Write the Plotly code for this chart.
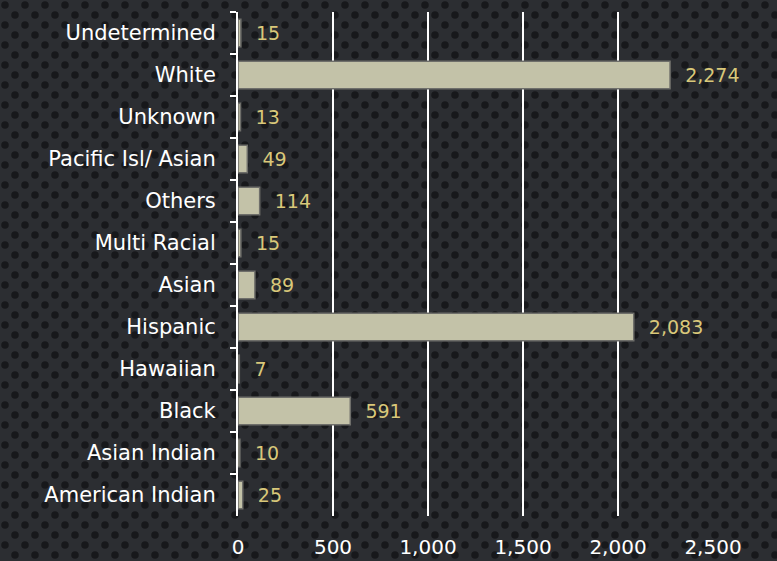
import plotly.graph_objects as go
import base64

categories = ["Undetermined", "White", "Unknown", "Pacific Isl/ Asian", "Others",
              "Multi Racial", "Asian", "Hispanic", "Hawaiian", "Black",
              "Asian Indian", "American Indian"]
values = [15, 2274, 13, 49, 114, 15, 89, 2083, 7, 591, 10, 25]
x_ticks = [0, 500, 1000, 1500, 2000, 2500]

W, H = 777, 561
ML, MR, MT, MB = 238, 64, 12, 45
pw, ph = W - ML - MR, H - MT - MB

svg = f'''<svg xmlns="http://www.w3.org/2000/svg" width="{W}" height="{H}">
<defs><pattern id="p" width="20" height="20" patternUnits="userSpaceOnUse">
<rect width="20" height="20" fill="#2c2e32"/>
<circle cx="5" cy="5" r="3.8" fill="#17181b"/>
<circle cx="15" cy="15" r="3.8" fill="#17181b"/>
</pattern></defs>
<rect width="{W}" height="{H}" fill="url(#p)"/></svg>'''
src = "data:image/svg+xml;base64," + base64.b64encode(svg.encode()).decode()

FONT = "DejaVu Sans"

fig = go.Figure(go.Bar(
    y=categories, x=values, orientation="h",
    marker=dict(color="#c3c2a8", line=dict(color="#6e6e6a", width=1.5)),
    width=0.66,
    text=values, texttemplate="\u00a0\u00a0%{x:,}", textposition="outside",
    textfont=dict(color="#d9c87a", size=19, family=FONT),
    cliponaxis=False,
))

fig.update_layout(
    width=W, height=H,
    margin=dict(l=ML, r=MR, t=MT, b=MB, autoexpand=False),
    paper_bgcolor="#2c2e32", plot_bgcolor="rgba(0,0,0,0)",
    showlegend=False,
    font=dict(family=FONT, color="white", size=20),
    images=[dict(source=src, xref="paper", yref="paper",
                 x=-ML / pw, y=1 + MT / ph, sizex=W / pw, sizey=H / ph,
                 xanchor="left", yanchor="top", sizing="stretch", layer="below")],
    xaxis=dict(range=[0, 2500], tickvals=x_ticks, tickformat=",",
               showgrid=True, gridcolor="white", gridwidth=2,
               zeroline=False, showline=False, ticks="", automargin=False,
               tickfont=dict(size=20, color="white"), ticklabelstandoff=17),
    yaxis=dict(autorange="reversed", type="category", automargin=False,
               showline=True, linecolor="white", linewidth=2,
               ticks="outside", tickson="boundaries", ticklen=6,
               tickcolor="white", tickwidth=2, showgrid=False,
               tickfont=dict(size=21, color="white"), ticklabelstandoff=16),
)

fig.write_html("out.html", config={"displayModeBar": False},
               post_script="document.body.style.margin='0';document.body.style.background='#2c2e32';")
